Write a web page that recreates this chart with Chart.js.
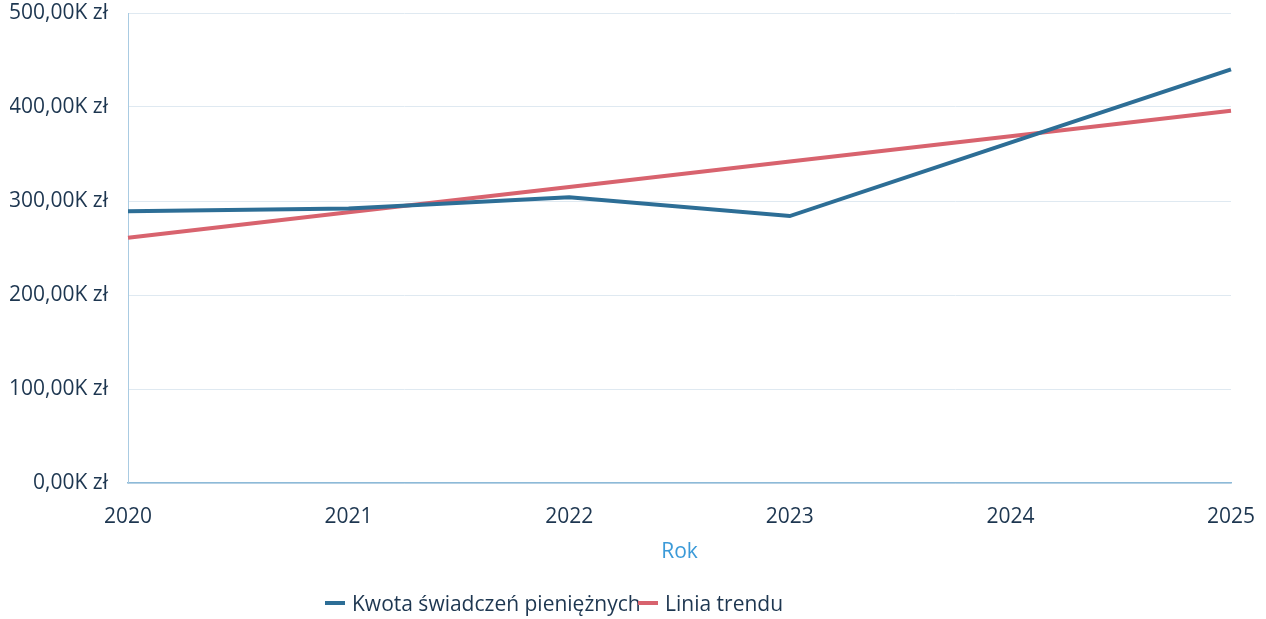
<!DOCTYPE html>
<html lang="pl">

<head>
    <meta charset="UTF-8">
    <title>Kwota świadczeń pieniężnych</title>
    <script src="https://cdn.jsdelivr.net/npm/chart.js"></script>
    <style>
        html, body { margin: 0; padding: 0; background: #fff; }
        #wrap { position: relative; width: 1266px; height: 619px; }
        #legend { position: absolute; top: 589px; left: 0; font-family: "Open Sans", sans-serif; font-size: 21px; color: #1d3650; }
        #legend .item { position: absolute; white-space: nowrap; display: flex; align-items: center; }
        #legend .swatch { display: inline-block; width: 20px; height: 4px; margin-right: 7px; }
    </style>
</head>

<body>
    <div id="wrap">
        <canvas id="chart" width="1266" height="619"></canvas>
        <div id="legend"></div>
    </div>

<script>
    // data (values in zł)
    const years = ['2020', '2021', '2022', '2023', '2024', '2025'];
    const kwota = [289000, 292000, 304000, 284000, 362000, 440000];
    const trend = [261000, 288000, 315000, 342000, 369000, 396000];
    const yTicks = [0, 100000, 200000, 300000, 400000, 500000];

    const seriesNames = ['Kwota świadczeń pieniężnych', 'Linia trendu'];
    const seriesColors = ['#2d6e96', '#d8636e'];
    const legendLeft = [325, 638];

    const textColor = '#1d3650';
    const font = { family: '"Open Sans", sans-serif', size: 21 };

    const ctx = document.getElementById('chart').getContext('2d');
    const chart = new Chart(ctx, {
        type: 'line',
        data: {
            labels: years,
            datasets: [
                { label: seriesNames[0], data: kwota, borderColor: seriesColors[0], backgroundColor: seriesColors[0] },
                { label: seriesNames[1], data: trend, borderColor: seriesColors[1], backgroundColor: seriesColors[1] }
            ]
        },
        options: {
            responsive: false,
            animation: false,
            layout: { padding: { left: 10, right: 35, top: 13, bottom: 46 } },
            elements: {
                line: { borderWidth: 4, tension: 0 },
                point: { radius: 0 }
            },
            plugins: {
                legend: { display: false },
                tooltip: { enabled: false }
            },
            scales: {
                x: {
                    offset: false,
                    grid: { display: false },
                    border: { display: true, color: '#8dbad8', width: 1.5 },
                    ticks: { color: textColor, font: font, padding: 13, maxRotation: 0 },
                    title: { display: true, text: 'Rok', color: '#3b9ad8', font: font, padding: { top: 0, bottom: 8 } },
                    afterFit: s => { s.height = 90; s.paddingLeft = 0; s.paddingRight = 0; }
                },
                y: {
                    min: 0,
                    max: 500000,
                    afterBuildTicks: s => { s.ticks = yTicks.map(v => ({ value: v })); },
                    grid: { color: '#dfe9f1', lineWidth: 1, drawTicks: false },
                    border: { display: true, color: '#a9cbe2', width: 1 },
                    ticks: {
                        color: textColor,
                        font: font,
                        padding: 20,
                        callback: v => (v / 1000).toFixed(2).replace('.', ',') + 'K zł'
                    },
                    afterFit: s => { s.width = 118; s.paddingTop = 0; s.paddingBottom = 0; }
                }
            }
        }
    });

    // legend below the chart, built from the datasets
    const legend = document.getElementById('legend');
    chart.data.datasets.forEach((ds, i) => {
        const item = document.createElement('div');
        item.className = 'item';
        item.style.left = legendLeft[i] + 'px';
        item.innerHTML = '<span class="swatch" style="background:' + ds.borderColor + '"></span><span>' + ds.label + '</span>';
        legend.appendChild(item);
    });
</script>

</body>

</html>
